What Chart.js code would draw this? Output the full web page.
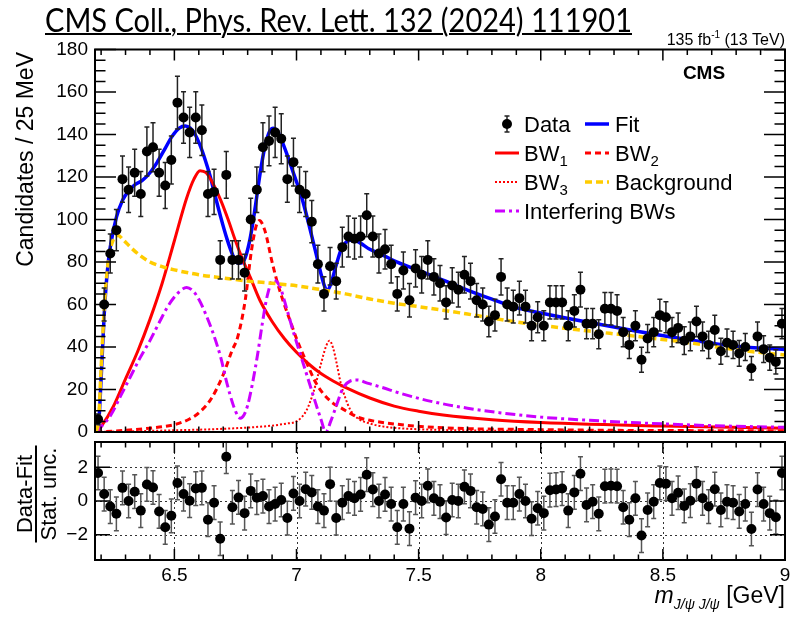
<!DOCTYPE html>
<html>
<head>
<meta charset="utf-8">
<script src="https://cdn.jsdelivr.net/npm/chart.js@4.4.1/dist/chart.umd.min.js"></script>
<style>
  html, body { margin: 0; padding: 0; background: #fff; }
  #wrap { position: relative; width: 794px; height: 620px; overflow: hidden; }
  #title {
    position: absolute; left: 45px; top: 0px;
    font-family: Lato, "Open Sans", sans-serif; font-size: 32px;
    text-decoration: underline; text-decoration-thickness: 2px;
    white-space: nowrap; transform-origin: left top; color: #000;
  }
  #main { position: absolute; left: 0; top: 0; }
  #pull { position: absolute; left: 0; top: 437px; }
</style>
</head>
<body>
<div id="wrap">
  <canvas id="main" width="794" height="445"></canvas>
  <canvas id="pull" width="794" height="183"></canvas>
  <div id="title">CMS Coll., Phys. Rev. Lett. 132 (2024) 111901</div>
</div>
<script>
const FONT = '"Liberation Sans", Arial, Helvetica, sans-serif';

// histogram range, 25 MeV bins
const xMin = 6.175, xMax = 9.0, binWidth = 0.025;

// candidates per bin
const counts = [
  6, 60, 84, 95, 119, 114, 122, 112, 132, 134,
  122, 116, 128, 155, 148, 141, 148, 142, 112, 113,
  81, 121, 81, 81, 75, 100, 114, 134, 137, 141,
  138, 119, 127, 114, 112, 99, 79, 65, 78, 71,
  87, 92, 91, 92, 102, 92, 84, 86, 79, 65,
  76, 62, 77, 74, 81, 73, 70, 61, 69, 67,
  74, 71, 62, 60, 52, 55, 73, 60, 59, 63,
  59, 50, 54, 50, 61, 61, 61, 50, 57, 67,
  51, 51, 46, 58, 58, 57, 47, 41, 50, 34,
  44, 47, 55, 54, 47, 49, 43, 45, 52, 45,
  41, 48, 38, 42, 41, 37, 40, 30, 45, 39,
  35, 33, 51
];

// (data - fit) / stat. unc. per bin
const pulls = [
  1.66, 0.41, -0.33, -0.76, 0.78, 0, 0.55, -0.57, 0.98, 0.8,
  -0.62, -1.56, -0.88, 1.07, 0.41, 0.02, 0.74, 0.78, -1.11, -0.1,
  -2.24, 2.63, -0.37, 0.21, -0.72, 0.6, 0.2, 0.29, -0.33, -0.18,
  0.06, -1.01, 0.45, 0, 0.7, 0.51, -0.33, -0.57, 1.0, -1.01,
  -0.1, 0.29, 0.16, 0.39, 1.56, 0.68, 0, 0.39, -0.18, -1.56,
  -0.18, -1.64, 0.2, 0, 0.9, 0.16, -0.04, -0.98, 0.06, 0,
  0.84, 0.6, -0.37, -0.47, -1.4, -0.92, 1.29, -0.1, -0.1, 0.41,
  0, -1.05, -0.43, -0.72, 0.64, 0.68, 0.74, -0.57, 0.51, 1.62,
  -0.23, -0.04, -0.76, 0.88, 0.9, 0.88, -0.37, -1.11, 0.16, -2.05,
  -0.53, -0.04, 1.07, 1.03, 0.16, 0.49, -0.29, 0.02, 1.03, 0.16,
  -0.33, 0.7, -0.53, -0.04, -0.1, -0.62, -0.18, -1.66, 0.68, -0.18,
  -0.72, -0.96, 1.66
];

const yTicksMain = [0, 20, 40, 60, 80, 100, 120, 140, 160, 180];
const yTicksPull = [-2, 0, 2];
const xTicks = [6.5, 7, 7.5, 8, 8.5, 9];

// fit components, [mass, candidates]
const fitCurve = [
  [6.18, 0], [6.19, 4], [6.2, 25], [6.2125, 55], [6.225, 75], [6.2375, 87], [6.2625, 101],
  [6.2875, 109], [6.31, 113], [6.34, 116.5], [6.37, 118.5], [6.4, 122], [6.43, 127],
  [6.46, 133], [6.49, 139], [6.52, 143], [6.545, 144], [6.565, 143], [6.585, 140],
  [6.605, 135], [6.625, 128.5], [6.645, 121], [6.665, 112], [6.69, 101], [6.715, 91],
  [6.74, 83], [6.76, 79.5], [6.775, 79.5], [6.79, 82], [6.81, 91], [6.83, 105],
  [6.85, 121], [6.87, 134], [6.89, 141.5], [6.905, 143], [6.92, 142], [6.94, 137],
  [6.96, 131], [6.99, 121], [7.02, 111], [7.05, 98], [7.08, 84], [7.1, 74.5],
  [7.115, 68.5], [7.125, 66.5], [7.14, 69.5], [7.16, 77.5], [7.18, 85], [7.2, 89],
  [7.23, 90.5], [7.26, 89], [7.3, 86], [7.35, 83.5], [7.4, 80.5], [7.5, 76],
  [7.6, 71.5], [7.7, 66.8], [7.8, 62.5], [7.9, 58.5], [8.0, 56], [8.2, 51.5],
  [8.4, 47.3], [8.6, 43.5], [8.8, 40.4], [9.0, 38.8]
];
const bkgCurve = [
  [6.18, 0], [6.19, 6], [6.2, 30], [6.215, 62], [6.23, 81], [6.25, 90.5], [6.27, 92.5],
  [6.29, 90.5], [6.32, 87], [6.36, 83], [6.4, 80], [6.45, 77.8], [6.5, 76.3],
  [6.6, 74], [6.7, 72.5], [6.8, 71], [6.9, 70], [7.0, 68.8], [7.1, 67], [7.2, 65],
  [7.3, 62.6], [7.4, 60.6], [7.5, 59], [7.6, 57.3], [7.7, 55.5], [7.8, 53.6],
  [7.9, 51.8], [8.0, 50.2], [8.2, 47.5], [8.4, 44.9], [8.6, 42.1], [8.8, 38.7], [9.0, 36.2]
];
const bw1Curve = [
  [6.18, 0], [6.2, 2.5], [6.25, 12], [6.3, 25], [6.35, 38], [6.4, 53], [6.45, 70],
  [6.5, 90], [6.55, 110], [6.58, 119], [6.605, 123], [6.63, 122], [6.66, 116.5],
  [6.69, 109], [6.72, 100], [6.75, 90], [6.78, 81], [6.81, 73], [6.85, 62], [6.9, 52],
  [6.95, 44], [7.0, 37.5], [7.05, 32], [7.1, 27.5], [7.15, 24], [7.2, 21], [7.3, 16],
  [7.4, 12.2], [7.5, 9.8], [7.6, 8], [7.8, 5.8], [8.0, 4.5], [8.5, 2.8], [9.0, 1.8]
];
const bw2Curve = [
  [6.18, 0], [6.3, 0.8], [6.4, 1.8], [6.5, 3.5], [6.56, 6], [6.6, 9], [6.65, 15.5],
  [6.7, 27], [6.735, 38], [6.76, 45], [6.79, 62], [6.815, 85], [6.835, 97],
  [6.848, 99.5], [6.87, 95], [6.9, 80], [6.92, 71], [6.95, 60], [6.975, 52], [7.0, 44],
  [7.04, 33], [7.08, 23], [7.11, 18], [7.15, 13.5], [7.18, 11.5], [7.25, 7], [7.3, 5.5],
  [7.4, 3.8], [7.56, 2.2], [8.0, 1.1], [9.0, 0.5]
];
const bw3Curve = [
  [6.18, 0], [6.5, 0.8], [6.7, 1.5], [6.9, 3], [6.96, 4], [7.0, 5], [7.04, 10],
  [7.07, 19], [7.1, 32], [7.12, 40], [7.135, 43], [7.15, 39.5], [7.165, 32],
  [7.18, 23.5], [7.2, 16], [7.22, 10.5], [7.25, 6.5], [7.3, 4], [7.36, 2.5],
  [7.5, 1.3], [8.0, 0.5], [9.0, 0.2]
];
const intfCurve = [
  [6.18, 0], [6.24, 8], [6.28, 17], [6.32, 26], [6.36, 35], [6.4, 43], [6.44, 52],
  [6.47, 58.5], [6.5, 63.5], [6.525, 66.5], [6.55, 68], [6.575, 66.5], [6.6, 62.5],
  [6.63, 55], [6.66, 46], [6.69, 35], [6.715, 23], [6.74, 13], [6.76, 7.5], [6.77, 6.5],
  [6.785, 8], [6.8, 12.5], [6.82, 23], [6.84, 36], [6.86, 51], [6.88, 64], [6.905, 71.5],
  [6.93, 69], [6.96, 58], [6.99, 46], [7.02, 35], [7.05, 24], [7.08, 13], [7.1, 6],
  [7.12, 0], [7.14, 5], [7.165, 13], [7.19, 20.5], [7.22, 24], [7.25, 24.5], [7.29, 23],
  [7.35, 21], [7.425, 18.2], [7.56, 14.2], [7.7, 11.2], [7.83, 9.1], [8.0, 7],
  [8.2, 5.5], [8.4, 4.3], [8.7, 3], [9.0, 2.2]
];

const binCenters = counts.map((_, i) => xMin + binWidth * (i + 0.5));

const styles = {
  fit:  { color: '#0000ff', width: 3.5, dash: [] },
  bw1:  { color: '#ff0000', width: 3,   dash: [] },
  bw2:  { color: '#ff0000', width: 3,   dash: [6, 4] },
  bw3:  { color: '#ff0000', width: 2,   dash: [2, 2] },
  bkg:  { color: '#ffcc00', width: 3.5, dash: [7, 4] },
  intf: { color: '#cc00ff', width: 3,   dash: [10, 4, 3, 4] }
};

function curveSet(points, st, order) {
  return {
    data: points.map(([x, y]) => ({ x, y })),
    showLine: true,
    borderColor: st.color,
    borderWidth: st.width,
    borderDash: st.dash,
    pointRadius: 0,
    cubicInterpolationMode: 'monotone',
    fill: false,
    order
  };
}

function range(a, b, step) {
  const out = [];
  for (let v = a; v <= b + 1e-9; v += step) out.push(+v.toFixed(4));
  return out;
}

// vertical error bars with small end caps, drawn under the markers
const errorBars = {
  id: 'errorBars',
  beforeDatasetDraw(chart, args) {
    const ds = chart.data.datasets[args.index];
    if (!ds.errors) return;
    const { ctx, chartArea: a, scales: { x, y } } = chart;
    ctx.save();
    ctx.beginPath();
    ctx.rect(a.left, a.top, a.width, a.height);
    ctx.clip();
    ctx.strokeStyle = ds.errorColor;
    ctx.lineWidth = 1.5;
    ctx.beginPath();
    ds.data.forEach((p, i) => {
      const e = ds.errors[i];
      const px = x.getPixelForValue(p.x);
      const y1 = y.getPixelForValue(p.y - e);
      const y2 = y.getPixelForValue(p.y + e);
      ctx.moveTo(px, y1); ctx.lineTo(px, y2);
      ctx.moveTo(px - 2.5, y1); ctx.lineTo(px + 2.5, y1);
      ctx.moveTo(px - 2.5, y2); ctx.lineTo(px + 2.5, y2);
    });
    ctx.stroke();
    ctx.restore();
  }
};

// ROOT style frame: ticks on the inside of all four sides, optional dotted grid
const rootFrame = {
  id: 'rootFrame',
  beforeDatasetsDraw(chart, args, o) {
    if (!o.grid) return;
    const { ctx, chartArea: a, scales: { x, y } } = chart;
    ctx.save();
    ctx.strokeStyle = '#333';
    ctx.lineWidth = 1;
    ctx.setLineDash([2, 3]);
    ctx.beginPath();
    o.grid.x.forEach(v => {
      const px = Math.round(x.getPixelForValue(v)) + 0.5;
      ctx.moveTo(px, a.top); ctx.lineTo(px, a.bottom);
    });
    o.grid.y.forEach(v => {
      const py = Math.round(y.getPixelForValue(v)) + 0.5;
      ctx.moveTo(a.left, py); ctx.lineTo(a.right, py);
    });
    ctx.stroke();
    ctx.restore();
  },
  afterDraw(chart, args, o) {
    const { ctx, chartArea: a, scales: { x, y } } = chart;
    ctx.save();
    ctx.strokeStyle = '#000';
    ctx.lineWidth = 1.5;
    ctx.beginPath();
    const xt = (vals, len) => vals.forEach(v => {
      const px = x.getPixelForValue(v);
      ctx.moveTo(px, a.bottom); ctx.lineTo(px, a.bottom - len);
      ctx.moveTo(px, a.top); ctx.lineTo(px, a.top + len);
    });
    const yt = (vals, len) => vals.forEach(v => {
      const py = y.getPixelForValue(v);
      ctx.moveTo(a.left, py); ctx.lineTo(a.left + len, py);
      ctx.moveTo(a.right, py); ctx.lineTo(a.right - len, py);
    });
    xt(o.xMajor, o.xMajorLen);
    xt(o.xMinor, o.xMinorLen);
    yt(o.yMajor, o.yMajorLen);
    yt(o.yMinor, o.yMinorLen);
    ctx.stroke();
    ctx.lineWidth = 2;
    ctx.strokeRect(a.left, a.top, a.width, a.height);
    ctx.restore();
  }
};

function drawParts(ctx, parts, x, y) {
  // parts: [text, font, dy]; returns the end x
  parts.forEach(([t, f, dy]) => {
    ctx.font = f;
    ctx.fillText(t, x, y + dy);
    x += ctx.measureText(t).width;
  });
  return x;
}
function partsWidth(ctx, parts) {
  return parts.reduce((w, [t, f]) => { ctx.font = f; return w + ctx.measureText(t).width; }, 0);
}
function legendLine(ctx, x1, x2, y, st) {
  ctx.save();
  ctx.strokeStyle = st.color;
  ctx.lineWidth = st.width;
  ctx.setLineDash(st.dash);
  ctx.beginPath();
  ctx.moveTo(x1, y); ctx.lineTo(x2, y);
  ctx.stroke();
  ctx.restore();
}

const legendRows = [124, 153, 182, 211];
const legendFont = `22px ${FONT}`;
const subFont = `15px ${FONT}`;

const mainText = {
  id: 'mainText',
  afterDraw(chart) {
    const ctx = chart.ctx;
    ctx.save();
    ctx.fillStyle = '#000';
    ctx.textBaseline = 'alphabetic';

    // y-axis title, aligned to the top of the axis
    ctx.save();
    ctx.translate(33, 52);
    ctx.rotate(-Math.PI / 2);
    ctx.font = `23px ${FONT}`;
    ctx.textAlign = 'right';
    ctx.fillText('Candidates / 25 MeV', 0, 0);
    ctx.restore();

    ctx.textAlign = 'left';
    // luminosity label
    const lumi = [['135 fb', `16px ${FONT}`, 0], ['-1', `10px ${FONT}`, -7], [' (13 TeV)', `16px ${FONT}`, 0]];
    drawParts(ctx, lumi, 785 - partsWidth(ctx, lumi), 45);

    ctx.font = `bold 19px ${FONT}`;
    ctx.textAlign = 'center';
    ctx.fillText('CMS', 704, 79);
    ctx.textAlign = 'left';

    // legend, two columns
    const [r1, r2, r3, r4] = legendRows;
    ctx.strokeStyle = '#222';
    ctx.lineWidth = 1.5;
    ctx.beginPath();
    ctx.moveTo(507, r1 - 8); ctx.lineTo(507, r1 + 8);
    ctx.moveTo(504.5, r1 - 8); ctx.lineTo(509.5, r1 - 8);
    ctx.moveTo(504.5, r1 + 8); ctx.lineTo(509.5, r1 + 8);
    ctx.stroke();
    ctx.beginPath();
    ctx.arc(507, r1, 5, 0, Math.PI * 2);
    ctx.fill();
    drawParts(ctx, [['Data', legendFont, 0]], 524, r1 + 8);

    legendLine(ctx, 585, 609, r1, styles.fit);
    drawParts(ctx, [['Fit', legendFont, 0]], 615, r1 + 8);

    legendLine(ctx, 495, 519, r2, styles.bw1);
    drawParts(ctx, [['BW', legendFont, 0], ['1', subFont, 5]], 524, r2 + 8);
    legendLine(ctx, 585, 609, r2, styles.bw2);
    drawParts(ctx, [['BW', legendFont, 0], ['2', subFont, 5]], 615, r2 + 8);

    legendLine(ctx, 495, 519, r3, styles.bw3);
    drawParts(ctx, [['BW', legendFont, 0], ['3', subFont, 5]], 524, r3 + 8);
    legendLine(ctx, 585, 609, r3, styles.bkg);
    drawParts(ctx, [['Background', legendFont, 0]], 615, r3 + 8);

    legendLine(ctx, 495, 519, r4, styles.intf);
    drawParts(ctx, [['Interfering BWs', legendFont, 0]], 524, r4 + 8);

    ctx.restore();
  }
};

const pullText = {
  id: 'pullText',
  afterDraw(chart) {
    const ctx = chart.ctx;
    const top = 437; // canvas offset on the page
    ctx.save();
    ctx.fillStyle = '#000';
    ctx.strokeStyle = '#000';

    // y-axis title as a fraction
    ctx.save();
    ctx.translate(0, 494 - top);
    ctx.rotate(-Math.PI / 2);
    ctx.font = `22px ${FONT}`;
    ctx.textAlign = 'center';
    ctx.fillText('Data-Fit', 0, 32);
    ctx.fillText('Stat. unc.', 0, 56);
    const w = ctx.measureText('Stat. unc.').width;
    ctx.lineWidth = 2;
    ctx.beginPath();
    ctx.moveTo(-w / 2 - 2, 36); ctx.lineTo(w / 2 + 2, 36);
    ctx.stroke();
    ctx.restore();

    // x-axis title, right aligned
    const xt = [
      ['m', `italic 23px ${FONT}`, 0],
      ['J/\u03C8 J/\u03C8', `italic 14px ${FONT}`, 6],
      [' [GeV]', `23px ${FONT}`, 0]
    ];
    ctx.textAlign = 'left';
    drawParts(ctx, xt, 785 - partsWidth(ctx, xt), 603 - top);
    ctx.restore();
  }
};

const tickFont = { family: FONT, size: 19 };
const setTicks = vals => scale => { scale.ticks = vals.map(v => ({ value: v })); };
// fixed axis box, no extra room for half tick labels
const fixWidth = s => { s.width = 95; s.paddingTop = 0; s.paddingBottom = 0; };
const fixHeight = s => { s.height = 60; s.paddingLeft = 0; s.paddingRight = 0; };

// main panel
new Chart(document.getElementById('main'), {
  type: 'scatter',
  data: {
    datasets: [
      {
        data: binCenters.map((x, i) => ({ x, y: counts[i] })),
        errors: counts.map(n => Math.sqrt(n)), // Poisson errors
        errorColor: '#222',
        backgroundColor: '#000',
        borderWidth: 0,
        pointRadius: 5,
        order: 0
      },
      curveSet(bkgCurve, styles.bkg, 1),
      curveSet(intfCurve, styles.intf, 2),
      curveSet(bw3Curve, styles.bw3, 3),
      curveSet(bw2Curve, styles.bw2, 4),
      curveSet(bw1Curve, styles.bw1, 5),
      curveSet(fitCurve, styles.fit, 6)
    ]
  },
  options: {
    responsive: false,
    animation: false,
    events: [],
    layout: { padding: { left: 0, right: 9, top: 49.5, bottom: 13 } },
    scales: {
      x: { type: 'linear', min: xMin, max: xMax, display: false },
      y: {
        min: 0, max: 180,
        afterBuildTicks: setTicks(yTicksMain),
        afterFit: fixWidth,
        grid: { display: false, drawTicks: false },
        border: { display: false },
        ticks: { font: tickFont, color: '#000', padding: 7 }
      }
    },
    plugins: {
      legend: { display: false },
      tooltip: { enabled: false },
      rootFrame: {
        xMajor: xTicks, xMajorLen: 11,
        xMinor: range(6.2, 9.0, 0.1).filter(v => !xTicks.includes(v)), xMinorLen: 5.5,
        yMajor: yTicksMain, yMajorLen: 21,
        yMinor: range(5, 175, 5).filter(v => v % 20 !== 0), yMinorLen: 10.5
      }
    }
  },
  plugins: [errorBars, rootFrame, mainText]
});

// pull panel
new Chart(document.getElementById('pull'), {
  type: 'scatter',
  data: {
    datasets: [{
      data: binCenters.map((x, i) => ({ x, y: pulls[i] })),
      errors: pulls.map(() => 1),
      errorColor: '#555',
      backgroundColor: '#000',
      borderWidth: 0,
      pointRadius: 5
    }]
  },
  options: {
    responsive: false,
    animation: false,
    events: [],
    layout: { padding: { left: 0, right: 9, top: 5, bottom: 0 } },
    scales: {
      x: {
        type: 'linear', min: xMin, max: xMax,
        afterBuildTicks: setTicks(xTicks),
        afterFit: fixHeight,
        grid: { display: false, drawTicks: false },
        border: { display: false },
        ticks: { font: tickFont, color: '#000', padding: 4, maxRotation: 0, callback: v => String(v) }
      },
      y: {
        min: -3.5, max: 3.5,
        afterBuildTicks: setTicks(yTicksPull),
        afterFit: fixWidth,
        grid: { display: false, drawTicks: false },
        border: { display: false },
        ticks: {
          font: tickFont, color: '#000', padding: 7,
          callback: v => String(v).replace('-', '\u2212')
        }
      }
    },
    plugins: {
      legend: { display: false },
      tooltip: { enabled: false },
      rootFrame: {
        grid: { x: [6.5, 7, 7.5, 8, 8.5], y: yTicksPull },
        xMajor: xTicks, xMajorLen: 11,
        xMinor: range(6.2, 9.0, 0.1).filter(v => !xTicks.includes(v)), xMinorLen: 5.5,
        yMajor: yTicksPull, yMajorLen: 15,
        yMinor: [], yMinorLen: 0
      }
    }
  },
  plugins: [errorBars, rootFrame, pullText]
});

// stretch the reference line to its printed width
const title = document.getElementById('title');
title.style.transform = `scaleX(${587 / title.getBoundingClientRect().width})`;
</script>
</body>
</html>
